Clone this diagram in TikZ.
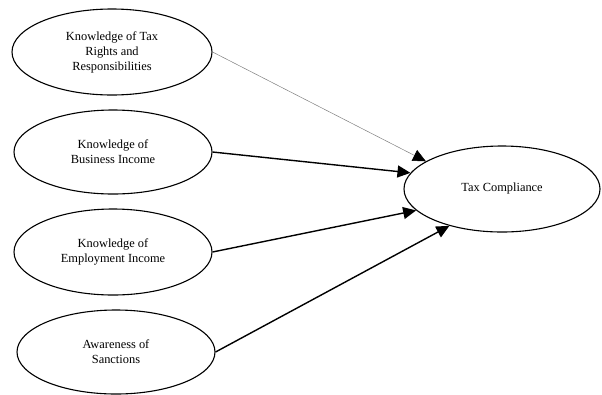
\documentclass[tikz,border=0pt]{standalone}
\usepackage{fontspec}
\setmainfont{Liberation Serif}
\usetikzlibrary{arrows.meta,shapes.geometric}
\begin{document}
\begin{tikzpicture}[x=1pt,y=-1pt,
  oval/.style={ellipse,draw,line width=1.1pt,minimum width=200pt,minimum height=86pt,inner sep=0pt,align=center,font=\fontsize{12.4}{15}\selectfont},
  conn/.style={line width=1.4pt,-{Triangle[length=13pt,width=12pt]}},
  thinconn/.style={line width=0.5pt,draw=gray,-{Triangle[length=13pt,width=12pt,fill=black,color=black]}}]
\useasboundingbox (0,0) rectangle (602,394);
\node[oval] (k1) at (112,52) {Knowledge of Tax\\Rights and\\Responsibilities};
\node[oval,minimum width=198pt,minimum height=84pt] (k2) at (113,152) {Knowledge of\\Business Income};
\node[oval,minimum width=198pt] (k3) at (113,252) {Knowledge of\\Employment Income};
\node[oval,minimum width=198pt,minimum height=84pt] (k4) at (116,352) {Awareness of\\Sanctions};
\node[oval,minimum width=196pt] (tc) at (502,189) {Tax Compliance};
\draw[thinconn] (k1.east) -- (tc.160);
\draw[conn] (k2.east) -- (tc.170);
\draw[conn] (k3.east) -- (tc.194);
\draw[conn] (k4.east) -- (tc.215);
\end{tikzpicture}
\end{document}
